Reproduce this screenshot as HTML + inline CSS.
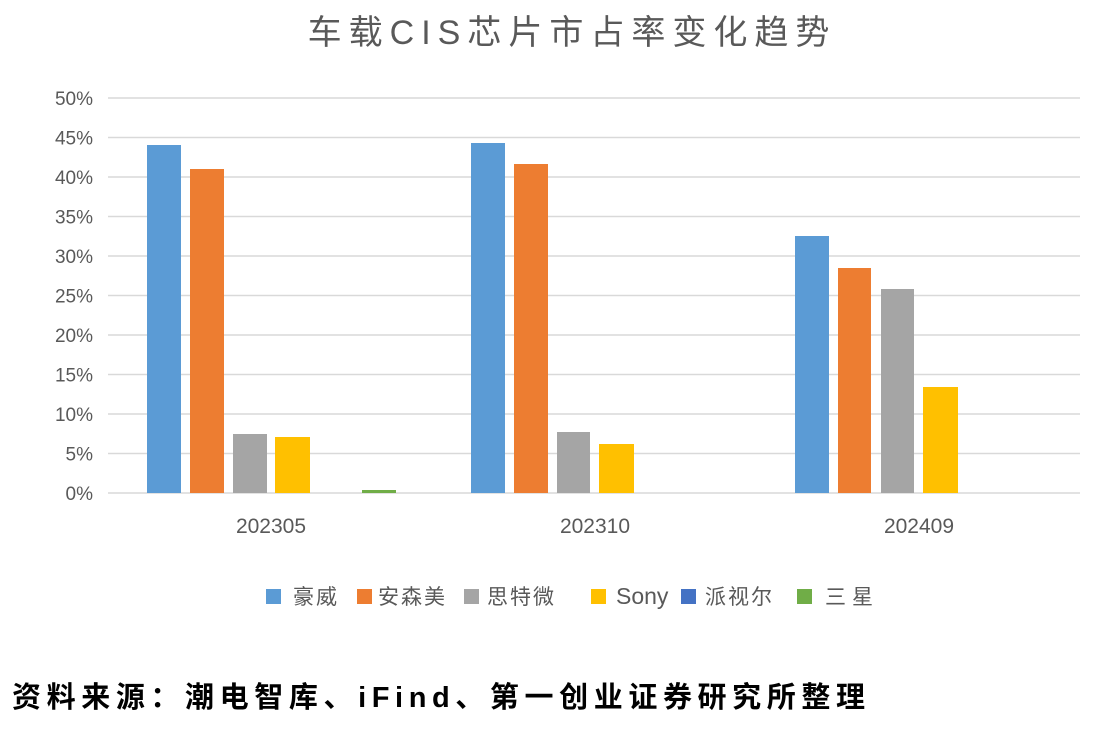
<!DOCTYPE html>
<html><head><meta charset="utf-8"><style>
body{margin:0;background:#fff;width:1098px;height:732px;overflow:hidden}
text{font-family:"Liberation Sans","Noto Sans CJK SC",sans-serif}
</style></head><body>
<svg width="1098" height="732" xmlns="http://www.w3.org/2000/svg">
<text x="572" y="44" font-size="34" fill="#595959" text-anchor="middle" font-family="'Noto Serif CJK SC',serif" letter-spacing="7">车载CIS芯片市占率变化趋势</text>
<g stroke="#d9d9d9" stroke-width="1.5">
<line x1="108" x2="1080" y1="98" y2="98"/><line x1="108" x2="1080" y1="137.5" y2="137.5"/>
<line x1="108" x2="1080" y1="177" y2="177"/><line x1="108" x2="1080" y1="216.5" y2="216.5"/>
<line x1="108" x2="1080" y1="256" y2="256"/><line x1="108" x2="1080" y1="295.5" y2="295.5"/>
<line x1="108" x2="1080" y1="335" y2="335"/><line x1="108" x2="1080" y1="374.5" y2="374.5"/>
<line x1="108" x2="1080" y1="414" y2="414"/><line x1="108" x2="1080" y1="453.5" y2="453.5"/>
<line x1="108" x2="1080" y1="493" y2="493"/>
</g>
<g font-size="19" fill="#595959" text-anchor="end">
<text x="93" y="105">50%</text><text x="93" y="144.5">45%</text><text x="93" y="184">40%</text>
<text x="93" y="223.5">35%</text><text x="93" y="263">30%</text><text x="93" y="302.5">25%</text>
<text x="93" y="342">20%</text><text x="93" y="381.5">15%</text><text x="93" y="421">10%</text>
<text x="93" y="460.5">5%</text><text x="93" y="500">0%</text>
</g>
<g>
<rect x="147" y="145" width="34" height="348" fill="#5b9bd5"/>
<rect x="190" y="169" width="34" height="324" fill="#ed7d31"/>
<rect x="233" y="434" width="34" height="59" fill="#a5a5a5"/>
<rect x="275" y="437" width="35" height="56" fill="#ffc000"/>
<rect x="362" y="490" width="34" height="3" fill="#70ad47"/>
<rect x="471" y="143" width="34" height="350" fill="#5b9bd5"/>
<rect x="514" y="164" width="34" height="329" fill="#ed7d31"/>
<rect x="557" y="432" width="33" height="61" fill="#a5a5a5"/>
<rect x="599" y="444" width="35" height="49" fill="#ffc000"/>
<rect x="795" y="236" width="34" height="257" fill="#5b9bd5"/>
<rect x="838" y="268" width="33" height="225" fill="#ed7d31"/>
<rect x="881" y="289" width="33" height="204" fill="#a5a5a5"/>
<rect x="923" y="387" width="35" height="106" fill="#ffc000"/>
</g>
<g font-size="21" fill="#595959" text-anchor="middle">
<text x="271" y="533">202305</text><text x="595" y="533">202310</text><text x="919" y="533">202409</text>
</g>
<g font-size="21" fill="#595959" letter-spacing="2" font-family="'Noto Serif CJK SC',serif">
<rect x="266" y="589" width="15" height="15" fill="#5b9bd5"/><text x="293" y="604">豪威</text>
<rect x="357" y="589" width="15" height="15" fill="#ed7d31"/><text x="378" y="604">安森美</text>
<rect x="464" y="589" width="15" height="15" fill="#a5a5a5"/><text x="487" y="604">思特微</text>
<rect x="591" y="589" width="15" height="15" fill="#ffc000"/><text x="616" y="604" letter-spacing="0" font-size="23" font-family="'Liberation Sans',sans-serif">Sony</text>
<rect x="681" y="589" width="15" height="15" fill="#4472c4"/><text x="705" y="604">派视尔</text>
<rect x="797" y="589" width="15" height="15" fill="#70ad47"/><text x="825" y="604" letter-spacing="6">三星</text>
</g>
<text x="12" y="707" font-size="29" font-weight="bold" fill="#000" font-family="'Noto Sans CJK SC',sans-serif" textLength="853" lengthAdjust="spacing">资料来源：潮电智库、iFind、第一创业证券研究所整理</text>
</svg>
</body></html>
